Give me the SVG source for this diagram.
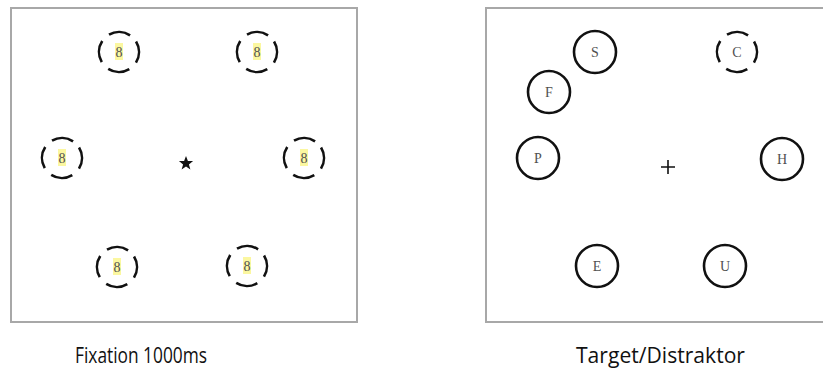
<svg xmlns="http://www.w3.org/2000/svg" width="823" height="374" viewBox="0 0 823 374">
  <style>
    .frame { fill: #ffffff; stroke: #a8a8a8; stroke-width: 2; }
    .ring { fill: none; stroke: #111111; stroke-width: 2.6; }
    .dashed { stroke-dasharray: 22 9.4; }
    .glyph { font-family: "Liberation Serif", "DejaVu Serif", serif; font-size: 14px; fill: #505050; text-anchor: middle; }
    .hl { fill: #fbf7a0; }
    .caption { font-family: "Open Sans", "Liberation Sans", sans-serif; font-size: 21px; fill: #111111; }
  </style>
  <rect width="823" height="374" fill="#ffffff"/>

  <!-- fixation display -->
  <g id="panel-fixation">
    <rect class="frame" x="11" y="8" width="346" height="314"/>
    <g id="fix-tl"><rect class="hl" x="115" y="43" width="8" height="17"/><text class="glyph" x="119" y="57">8</text><circle class="ring dashed" cx="119" cy="52" r="20" transform="rotate(-31.5 119 52)"/></g>
    <g id="fix-tr"><rect class="hl" x="253" y="43" width="8" height="17"/><text class="glyph" x="257" y="57">8</text><circle class="ring dashed" cx="257" cy="52" r="20" transform="rotate(-31.5 257 52)"/></g>
    <g id="fix-ml"><rect class="hl" x="58" y="149" width="8" height="17"/><text class="glyph" x="62" y="163">8</text><circle class="ring dashed" cx="62" cy="158" r="20" transform="rotate(-31.5 62 158)"/></g>
    <g id="fix-mr"><rect class="hl" x="300" y="149" width="8" height="17"/><text class="glyph" x="304" y="163">8</text><circle class="ring dashed" cx="304" cy="158" r="20" transform="rotate(-31.5 304 158)"/></g>
    <g id="fix-bl"><rect class="hl" x="113" y="258" width="8" height="17"/><text class="glyph" x="117" y="272">8</text><circle class="ring dashed" cx="117" cy="267" r="20" transform="rotate(-31.5 117 267)"/></g>
    <g id="fix-br"><rect class="hl" x="243" y="257" width="8" height="17"/><text class="glyph" x="247" y="271">8</text><circle class="ring dashed" cx="247" cy="266" r="20" transform="rotate(-31.5 247 266)"/></g>
    <!-- fixation star -->
    <polygon id="fix-star" fill="#111111" points="186,156 187.9,161.1 193.1,161.1 188.9,164.4 190.4,169.5 186,166.4 181.6,169.5 183.1,164.4 178.9,161.1 184.1,161.1"/>
  </g>

  <!-- search display -->
  <g id="panel-search">
    <rect class="frame" x="486" y="8" width="346" height="314"/>
    <g id="item-s"><circle class="ring" cx="595" cy="52" r="21"/><text class="glyph" x="595" y="57">S</text></g>
    <g id="item-c"><circle class="ring dashed" cx="737" cy="52" r="20" transform="rotate(-31.5 737 52)"/><text class="glyph" x="737" y="57">C</text></g>
    <g id="item-f"><circle class="ring" cx="549" cy="92" r="21"/><text class="glyph" x="549" y="97">F</text></g>
    <g id="item-p"><circle class="ring" cx="538" cy="158" r="21"/><text class="glyph" x="538" y="163">P</text></g>
    <g id="item-h"><circle class="ring" cx="782" cy="159" r="21"/><text class="glyph" x="782" y="164">H</text></g>
    <g id="item-e"><circle class="ring" cx="597" cy="266" r="21"/><text class="glyph" x="597" y="271">E</text></g>
    <g id="item-u"><circle class="ring" cx="725" cy="266" r="21"/><text class="glyph" x="725" y="271">U</text></g>
    <path id="fix-cross" d="M661 167 H675 M668 160 V174" stroke="#111111" stroke-width="1.6" fill="none"/>
  </g>

  <text class="caption" x="75" y="363" textLength="132" lengthAdjust="spacingAndGlyphs">Fixation 1000ms</text>
  <text class="caption" x="576" y="363" textLength="169" lengthAdjust="spacingAndGlyphs">Target/Distraktor</text>
</svg>
